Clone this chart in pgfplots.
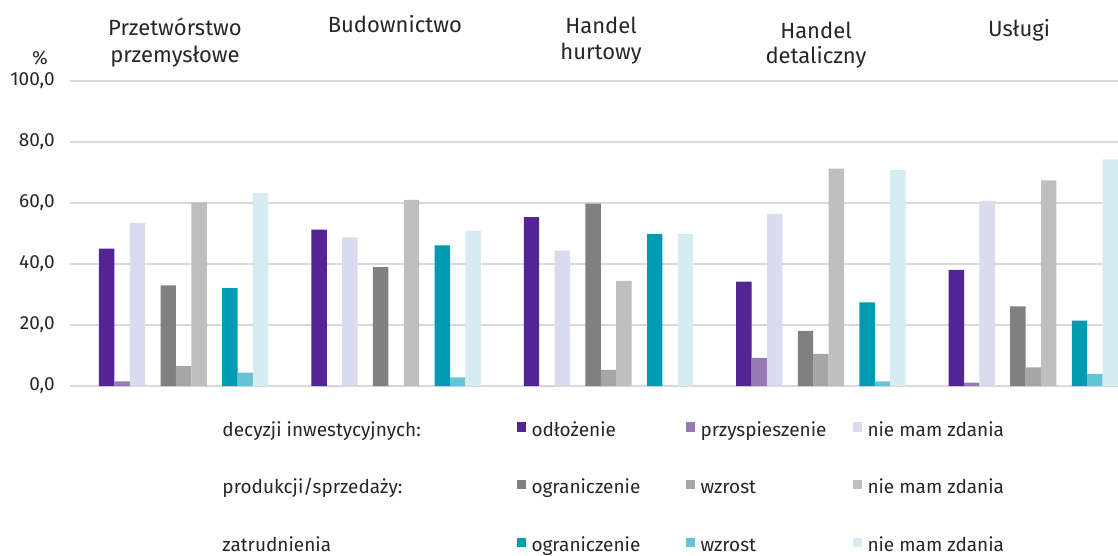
\documentclass[border=0pt]{standalone}
\usepackage{fontspec}
\setmainfont{Fira Sans}
\usepackage{pgfplots}
\pgfplotsset{compat=1.18}
\definecolor{c1}{RGB}{82,36,148}
\definecolor{c2}{RGB}{150,121,181}
\definecolor{c3}{RGB}{217,219,239}
\definecolor{c4}{RGB}{128,128,128}
\definecolor{c5}{RGB}{166,166,166}
\definecolor{c6}{RGB}{191,191,191}
\definecolor{c7}{RGB}{0,155,178}
\definecolor{c8}{RGB}{102,195,211}
\definecolor{c9}{RGB}{214,236,242}
\definecolor{gridc}{RGB}{217,217,217}
\definecolor{txt}{RGB}{38,38,38}
\pgfplotsset{sq/.style={legend image code/.code={\fill[##1] (0pt,0pt) rectangle (4.75pt,4.75pt);}}}
\newcommand{\lfont}{\fontsize{9.5}{11}\selectfont}
\newcommand{\tfont}{\fontsize{11}{13.5}\selectfont}
\begin{document}
\begin{tikzpicture}
\begin{axis}[
  at={(0,0)}, anchor=south west,
  scale only axis, width=524pt, height=152.5pt,
  xmin=-0.5353, xmax=4.3988, ymin=0, ymax=100,
  ybar, bar width=7.7pt,
  clip mode=individual,
  axis line style={draw=none},
  tick style={draw=none},
  major tick length=0pt,
  xtick=\empty,
  ytick={0,20,40,60,80,100},
  ymajorgrids, grid style={color=gridc, line width=0.75pt},
  yticklabel style={font=\lfont, color=txt, inner sep=0pt, xshift=-7.5pt,
    /pgf/number format/.cd, fixed, fixed zerofill, precision=1, use comma, assume math mode=true},
  legend columns=4,
  legend style={at={(axis description cs:0,0)}, anchor=north west, xshift=73.5pt, yshift=-18pt,
    draw=none, fill=none, inner sep=0pt, outer sep=0pt, font=\lfont, text=txt,
    nodes={inner sep=0pt, text height=7pt, text depth=2.5pt},
    /tikz/every odd column/.append style={column sep=2.75pt},
    /tikz/every even column/.append style={column sep=0pt},
    row sep=19.4pt},
  legend cell align=left,
  title style={text=txt},
]
\addlegendimage{empty legend}\addlegendentry{\makebox[147pt][l]{decyzji inwestycyjnych:}}
\addplot[fill=c1, draw=none, sq, bar shift=-38.5pt] coordinates {(0,45.0) (1,51.3) (2,55.4) (3,34.2) (4,38.1)};
\addlegendentry{\makebox[77pt][l]{odłożenie}}
\addplot[fill=c2, draw=none, sq, bar shift=-30.8pt] coordinates {(0,1.5) (1,0) (2,0) (3,9.2) (4,1.1)};
\addlegendentry{\makebox[76pt][l]{przyspieszenie}}
\addplot[fill=c3, draw=none, sq, bar shift=-23.1pt] coordinates {(0,53.4) (1,48.7) (2,44.4) (3,56.4) (4,60.7)};
\addlegendentry{nie mam zdania}
\addlegendimage{empty legend}\addlegendentry{\makebox[147pt][l]{produkcji/sprzedaży:}}
\addplot[fill=c4, draw=none, sq, bar shift=-7.7pt] coordinates {(0,33.0) (1,39.0) (2,59.8) (3,18.1) (4,26.1)};
\addlegendentry{\makebox[77pt][l]{ograniczenie}}
\addplot[fill=c5, draw=none, sq, bar shift=0pt] coordinates {(0,6.6) (1,0) (2,5.3) (3,10.5) (4,6.1)};
\addlegendentry{\makebox[76pt][l]{wzrost}}
\addplot[fill=c6, draw=none, sq, bar shift=7.7pt] coordinates {(0,60.2) (1,61.0) (2,34.5) (3,71.3) (4,67.4)};
\addlegendentry{nie mam zdania}
\addlegendimage{empty legend}\addlegendentry{\makebox[147pt][l]{zatrudnienia}}
\addplot[fill=c7, draw=none, sq, bar shift=23.1pt] coordinates {(0,32.1) (1,46.1) (2,49.8) (3,27.4) (4,21.4)};
\addlegendentry{\makebox[77pt][l]{ograniczenie}}
\addplot[fill=c8, draw=none, sq, bar shift=30.8pt] coordinates {(0,4.4) (1,2.8) (2,0) (3,1.5) (4,4.0)};
\addlegendentry{\makebox[76pt][l]{wzrost}}
\addplot[fill=c9, draw=none, sq, bar shift=38.5pt] coordinates {(0,63.2) (1,50.9) (2,49.8) (3,70.8) (4,74.3)};
\addlegendentry{nie mam zdania}
\node[anchor=base, font=\tfont, text=txt, yshift=22.5pt] at (axis cs:-0.041,100) {Przetwórstwo};
\node[anchor=base, font=\tfont, text=txt, yshift=9.35pt] at (axis cs:-0.041,100) {przemysłowe};
\node[anchor=base, font=\tfont, text=txt, yshift=24.25pt] at (axis cs:0.994,100) {Budownictwo};
\node[anchor=base, font=\tfont, text=txt, yshift=23.5pt] at (axis cs:1.965,100) {Handel};
\node[anchor=base, font=\tfont, text=txt, yshift=10.5pt] at (axis cs:1.965,100) {hurtowy};
\node[anchor=base, font=\tfont, text=txt, yshift=21.35pt] at (axis cs:2.977,100) {Handel};
\node[anchor=base, font=\tfont, text=txt, yshift=8.5pt] at (axis cs:2.977,100) {detaliczny};
\node[anchor=base, font=\tfont, text=txt, yshift=22.15pt] at (axis cs:3.933,100) {Usługi};
\node[font=\lfont, text=txt, xshift=-15pt, yshift=11.5pt] at (rel axis cs:0,1) {\%};
\end{axis}
\pgfresetboundingbox
\path[use as bounding box] (-35pt,-85pt) rectangle (524pt,193pt);
\end{tikzpicture}
\end{document}
